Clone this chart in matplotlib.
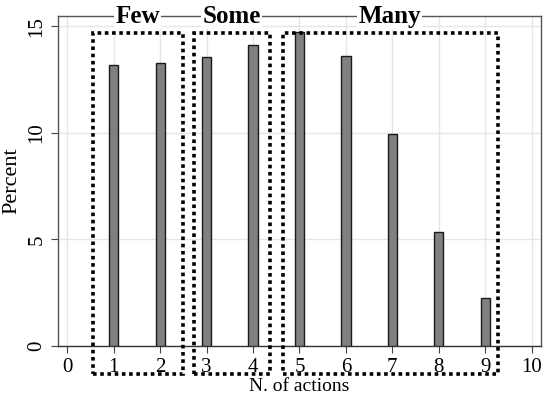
import matplotlib.pyplot as plt
from matplotlib.patches import Rectangle

actions = [1, 2, 3, 4, 5, 6, 7, 8, 9]
percent = [13.17, 13.25, 13.56, 14.1, 14.73, 13.6, 9.95, 5.33, 2.27]
group_names = ["Few", "Some", "Many"]
group_spans = [(0.55, 2.5), (2.72, 4.37), (4.65, 9.28)]
group_label_x = [1.51, 3.54, 6.94]

plt.rcParams['font.family'] = ['Liberation Serif', 'DejaVu Serif']

fig = plt.figure(figsize=(5.5, 3.99), dpi=100)
ax = fig.add_axes([0.1055, 0.1328, 0.878, 0.827])

ax.bar(actions, percent, width=0.2, color='#808080', edgecolor='#1a1a1a', linewidth=1, zorder=3)

ax.set_xlim(-0.2, 10.2)
ax.set_ylim(0, 15.47)
ax.set_xticks(range(0, 11))
ax.set_yticks([0, 5, 10, 15])
ax.grid(True, color='#e6e6e6', linewidth=1, zorder=0)
ax.tick_params(axis='both', labelsize=15, direction='out', length=5, color='#444444')
ax.tick_params(axis='y', labelrotation=90)
for lab in ax.get_yticklabels():
    lab.set_va('center')
for s in ax.spines.values():
    s.set_color('#555555')
    s.set_linewidth(1)
ax.spines['bottom'].set_color('#333333')

ax.set_xlabel("N. of actions", fontsize=14, labelpad=1)
ax.set_ylabel("Percent", fontsize=16, labelpad=4)

# dotted boxes around the groups
top, bottom = 14.67, -1.31
for (x0, x1) in group_spans:
    r = Rectangle((x0, bottom), x1 - x0, top - bottom, fill=False,
                  edgecolor='black', linewidth=2.6, linestyle=(0, (1, 1)),
                  clip_on=False, zorder=5)
    ax.add_patch(r)

for name, gx in zip(group_names, group_label_x):
    ax.text(gx, 15.47, name, ha='center', va='center', fontsize=18, fontweight='bold',
            bbox=dict(facecolor='white', edgecolor='none', pad=1), zorder=6, clip_on=False)

fig.savefig("out.png", dpi=100)
